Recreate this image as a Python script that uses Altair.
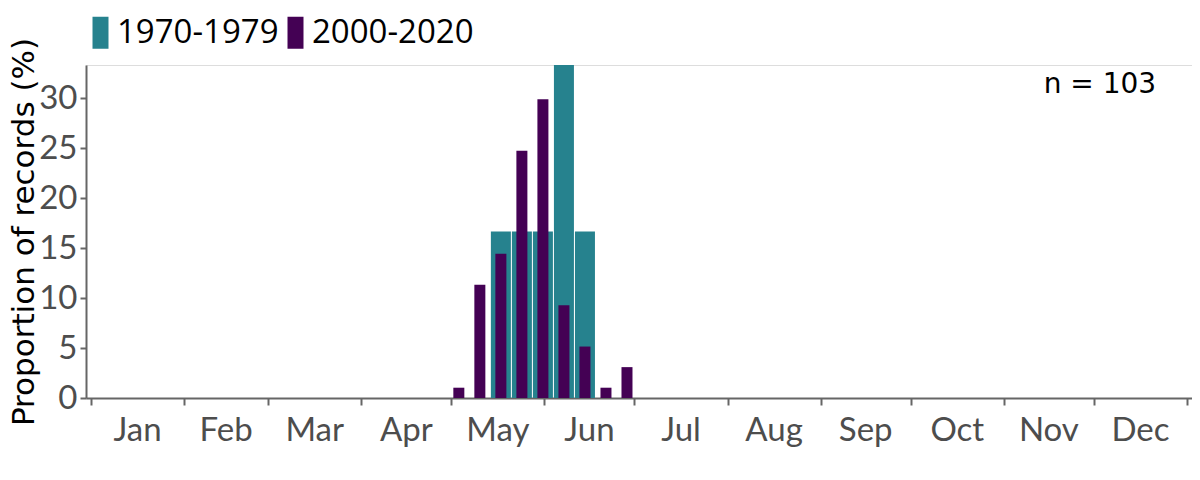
import altair as alt
import pandas as pd

# ---- data ----
periods = ["1970-1979", "2000-2020"]
colors = ["#26828e", "#440154"]

weeks_1970 = [19, 20, 21, 22, 23]
pct_1970 = [16.67, 16.67, 16.67, 33.33, 16.67]

weeks_2000 = [17, 18, 19, 20, 21, 22, 23, 24, 25]
pct_2000 = [1.03, 11.34, 14.43, 24.74, 29.90, 9.28, 5.15, 1.03, 3.09]

months = ["Jan", "Feb", "Mar", "Apr", "May", "Jun",
          "Jul", "Aug", "Sep", "Oct", "Nov", "Dec"]
month_start = [0, 31, 59, 90, 120, 151, 181, 212, 243, 273, 304, 334, 365]

n_label = "n = 103"

W, H = 1106, 333
GREY = "#666666"
LABEL_GREY = "#4d4d4d"

df70 = pd.DataFrame({"day": [7 * w + 3.5 for w in weeks_1970], "pct": pct_1970,
                     "period": periods[0]})
df00 = pd.DataFrame({"day": [7 * w + 3.5 for w in weeks_2000], "pct": pct_2000,
                     "period": periods[1]})
dfm = pd.DataFrame({"month": months,
                    "mid": [(month_start[i] + month_start[i + 1]) / 2 for i in range(12)]})
dfn = pd.DataFrame({"day": [336.0], "pct": [31.3], "label": [n_label]})

xscale = alt.Scale(domain=[0, 365], nice=False, zero=False)
yscale = alt.Scale(domain=[0, 33.33], nice=False)
cscale = alt.Scale(domain=periods, range=colors)

xaxis = alt.Axis(values=month_start, labels=False, title=None, grid=False,
                 tickSize=7, tickColor=GREY, tickWidth=2,
                 domainColor=GREY, domainWidth=2)
yaxis = alt.Axis(values=[0, 5, 10, 15, 20, 25, 30], title="Proportion of records (%)",
                 grid=False, tickSize=6, tickColor=GREY, tickWidth=2,
                 domainColor=GREY, domainWidth=2,
                 labelFont="Lato", labelFontSize=33, labelColor=LABEL_GREY, labelPadding=3,
                 titleFont="DejaVu Sans", titleFontSize=31, titleFontWeight="normal",
                 titleColor="black", titleX=-62, titleY=H / 2, titleAngle=270,
                 titleAlign="center", titleBaseline="middle")

legend = alt.Legend(title=None, orient="none", legendX=-2, legendY=-49,
                    direction="horizontal",
                    symbolType="M-1,-2H1V2H-1Z", symbolSize=256,
                    symbolStrokeWidth=0, symbolOpacity=1,
                    labelFont="Open Sans", labelFontSize=33, labelColor="black",
                    labelLimit=0, labelOffset=0, columnPadding=0)

teal = alt.Chart(df70).mark_bar(size=20).encode(
    x=alt.X("day:Q", scale=xscale, axis=xaxis),
    y=alt.Y("pct:Q", scale=yscale, axis=yaxis),
    color=alt.Color("period:N", scale=cscale, legend=legend),
)

purple = alt.Chart(df00).mark_bar(size=11).encode(
    x=alt.X("day:Q", scale=xscale),
    y=alt.Y("pct:Q", scale=yscale),
    color=alt.Color("period:N", scale=cscale, legend=legend),
)

month_text = alt.Chart(dfm).mark_text(
    font="Lato", fontSize=33, color=LABEL_GREY, baseline="alphabetic", align="center"
).encode(
    x=alt.X("mid:Q", scale=xscale),
    y=alt.value(H + 43),
    text="month:N",
)

n_text = alt.Chart(dfn).mark_text(
    font="DejaVu Sans", fontSize=28, color="black", baseline="middle", align="center"
).encode(
    x=alt.X("day:Q", scale=xscale),
    y=alt.Y("pct:Q", scale=yscale),
    text="label:N",
)

chart = alt.layer(teal, purple, month_text, n_text).properties(
    width=W, height=H,
    autosize=alt.AutoSizeParams(type="none"),
    padding={"left": 78, "top": 57, "right": 0, "bottom": 60},
).configure_view(stroke=None).configure(background="white")

chart.save("out.html", embed_options={"renderer": "svg", "actions": False})
